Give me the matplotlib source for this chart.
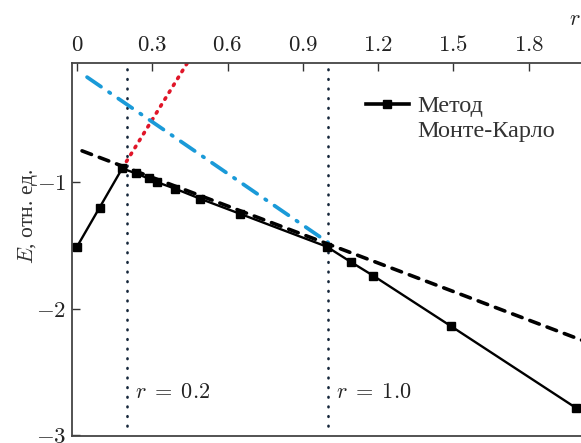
import matplotlib
matplotlib.use("Agg")
import matplotlib.pyplot as plt
from matplotlib.lines import Line2D

plt.rcParams['font.family'] = ['Liberation Serif', 'DejaVu Serif']
plt.rcParams['mathtext.fontset'] = 'cm'

# Monte Carlo method data
mc_r = [0.0, 0.09, 0.18, 0.235, 0.285, 0.32, 0.39, 0.49, 0.65, 0.995, 1.09, 1.18, 1.49, 1.99]
mc_E = [-1.51, -1.20, -0.89, -0.93, -0.97, -1.00, -1.05, -1.13, -1.25, -1.51, -1.63, -1.74, -2.14, -2.79]

# black dashed asymptote
dash_r = [0.02, 2.03]
dash_E = [-0.751, -2.265]

# blue dash-dot line
blue_r = [0.04, 1.0]
blue_E = [-0.167, -1.476]

# red dotted line
red_r = [0.18, 0.46]
red_E = [-0.89, 0.012]

# vertical markers
vline_r = [0.2, 1.0]
vline_labels = ["$r\\;=\\;0.2$", "$r\\;=\\;1.0$"]

xticks = [0, 0.3, 0.6, 0.9, 1.2, 1.5, 1.8]
xtick_labels = ["$0$", "$0.3$", "$0.6$", "$0.9$", "$1.2$", "$1.5$", "$1.8$"]
yticks = [-1, -2, -3]
ytick_labels = ["$-1$", "$-2$", "$-3$"]

W, H = 581, 443
fig = plt.figure(figsize=(W / 100, H / 100), dpi=100)
ax = fig.add_axes([72 / W, (H - 436) / H, (W - 72) / W, (436 - 63) / H])

ax.set_xlim(-0.02, 2.008)
ax.set_ylim(-3.01, -0.055)

# vertical dotted lines
for r in vline_r:
    ax.plot([r, r], [-2.93, -0.055], color="#15263a", lw=1.9,
            linestyle=(0, (0.25, 3.4)), dash_capstyle="round", zorder=1, clip_on=False)

ax.plot(red_r, red_E, color="#e01528", lw=2.6, linestyle=(0, (0.45, 1.8)),
        dash_capstyle="round", zorder=2)
ax.plot(blue_r, blue_E, color="#1a9ad8", lw=2.7,
        linestyle=(0, (4.5, 2.6, 0.4, 2.6)), dash_capstyle="round", zorder=2)
ax.plot(dash_r, dash_E, color="black", lw=2.6, linestyle=(0, (2.8, 2.3)),
        dash_capstyle="round", zorder=3)
mc_line, = ax.plot(mc_r, mc_E, color="black", lw=1.7, marker="s", ms=6.2, zorder=4)

# text annotations
ax.text(vline_r[0] + 0.03, -2.67, vline_labels[0], fontsize=16, va="center", ha="left",
        color="#222222")
ax.text(vline_r[1] + 0.03, -2.67, vline_labels[1], fontsize=16, va="center", ha="left",
        color="#222222")

ax.set_xticks(xticks)
ax.set_xticklabels(xtick_labels)
ax.set_yticks(yticks)
ax.set_yticklabels(ytick_labels)
ax.xaxis.tick_top()
ax.tick_params(axis="x", direction="in", length=6, width=1.0, labelsize=16.5, pad=5, colors="#333333")
ax.tick_params(axis="y", direction="in", length=6, width=1.0, labelsize=16.5, pad=4, colors="#333333")
for lab in ax.get_xticklabels() + ax.get_yticklabels():
    lab.set_color("#222222")

ax.spines["right"].set_visible(False)
for s in ["top", "left", "bottom"]:
    ax.spines[s].set_linewidth(1.3)
    ax.spines[s].set_color("#444444")

ax.set_ylabel("$E$, отн. ед.", fontsize=15.5, color="#333333")
ax.yaxis.set_label_coords(-0.063, 0.59)
ax.text(0.988, 1.115, "$r$", transform=ax.transAxes, fontsize=16, ha="center", va="center",
        color="#222222")

blank = Line2D([], [], color="none")
leg = ax.legend([mc_line, blank], ["Метод", "Монте-Карло"], loc="upper left",
                bbox_to_anchor=((366 - 72) / 509, (436 - 95) / 373), frameon=False,
                fontsize=17.5, handlelength=1.75, handletextpad=0.35, labelspacing=0.13,
                borderpad=0, borderaxespad=0)
leg.get_lines()[0].set_linewidth(2.6)
for t in leg.get_texts():
    t.set_color("#333333")

fig.savefig("out.png", dpi=100)
